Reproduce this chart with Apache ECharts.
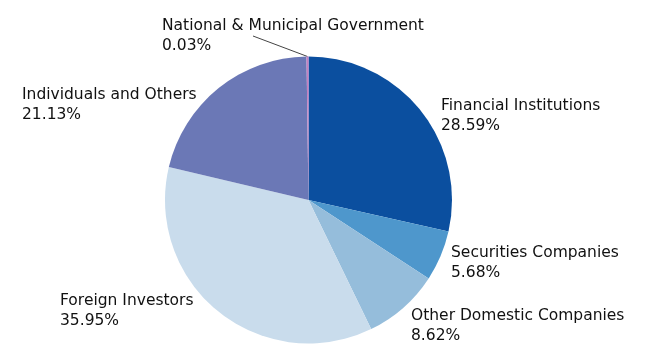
<!DOCTYPE html>
<html>
<head>
<meta charset="utf-8">
<script src="https://cdn.jsdelivr.net/npm/echarts@6/dist/echarts.min.js"></script>
<style>
html,body{margin:0;padding:0;background:#fff;}
#chart{width:650px;height:359px;}
</style>
</head>
<body>
<div id="chart"></div>
<script>
const categories = ["Financial Institutions", "Securities Companies", "Other Domestic Companies", "Foreign Investors", "Individuals and Others", "National & Municipal Government"];
const shares = [28.59, 5.68, 8.62, 35.95, 21.13, 0.03];
const colors = ["#0b4f9f", "#4e97cc", "#95bddb", "#c9dcec", "#6b78b6", "#c47fc2"];

// label anchor positions (top-left of label block)
const labelPos = {
  "Financial Institutions": [441, 96],
  "Securities Companies": [451, 243],
  "Other Domestic Companies": [411, 306],
  "Foreign Investors": [60, 291],
  "Individuals and Others": [22, 85],
  "National & Municipal Government": [162, 16]
};

const chart = echarts.init(document.getElementById('chart'), null, {renderer: 'canvas'});
chart.setOption({
  animation: false,
  color: colors,
  series: [{
    type: 'pie',
    center: [308.5, 200],
    radius: [0, 143.5],
    startAngle: 90,
    clockwise: true,
    minAngle: 0.8,
    padAngle: 0,
    avoidLabelOverlap: false,
    itemStyle: {borderWidth: 0, borderRadius: 0},
    data: categories.map((c, i) => ({
      name: c,
      value: shares[i],
      labelLine: {show: i === categories.length - 1}
    })),
    label: {
      show: true,
      position: 'outside',
      formatter: p => p.name + '\n' + p.value.toFixed(2) + '%',
      fontFamily: 'DejaVu Sans',
      fontSize: 15.5,
      lineHeight: 20,
      color: '#111',
      align: 'left'
    },
    labelLine: {
      lineStyle: {color: '#444', width: 1}
    },
    labelLayout: function (params) {
      const name = categories[params.dataIndex];
      const pos = labelPos[name];
      const res = {x: pos[0], y: pos[1], align: 'left', verticalAlign: 'top'};
      if (params.dataIndex === categories.length - 1 && params.labelLinePoints) {
        const s = params.labelLinePoints[0];
        res.labelLinePoints = [[s[0], s[1]], [253, 36], [253, 36]];
      }
      return res;
    },
    emphasis: {disabled: true}
  }]
});
</script>
</body>
</html>
